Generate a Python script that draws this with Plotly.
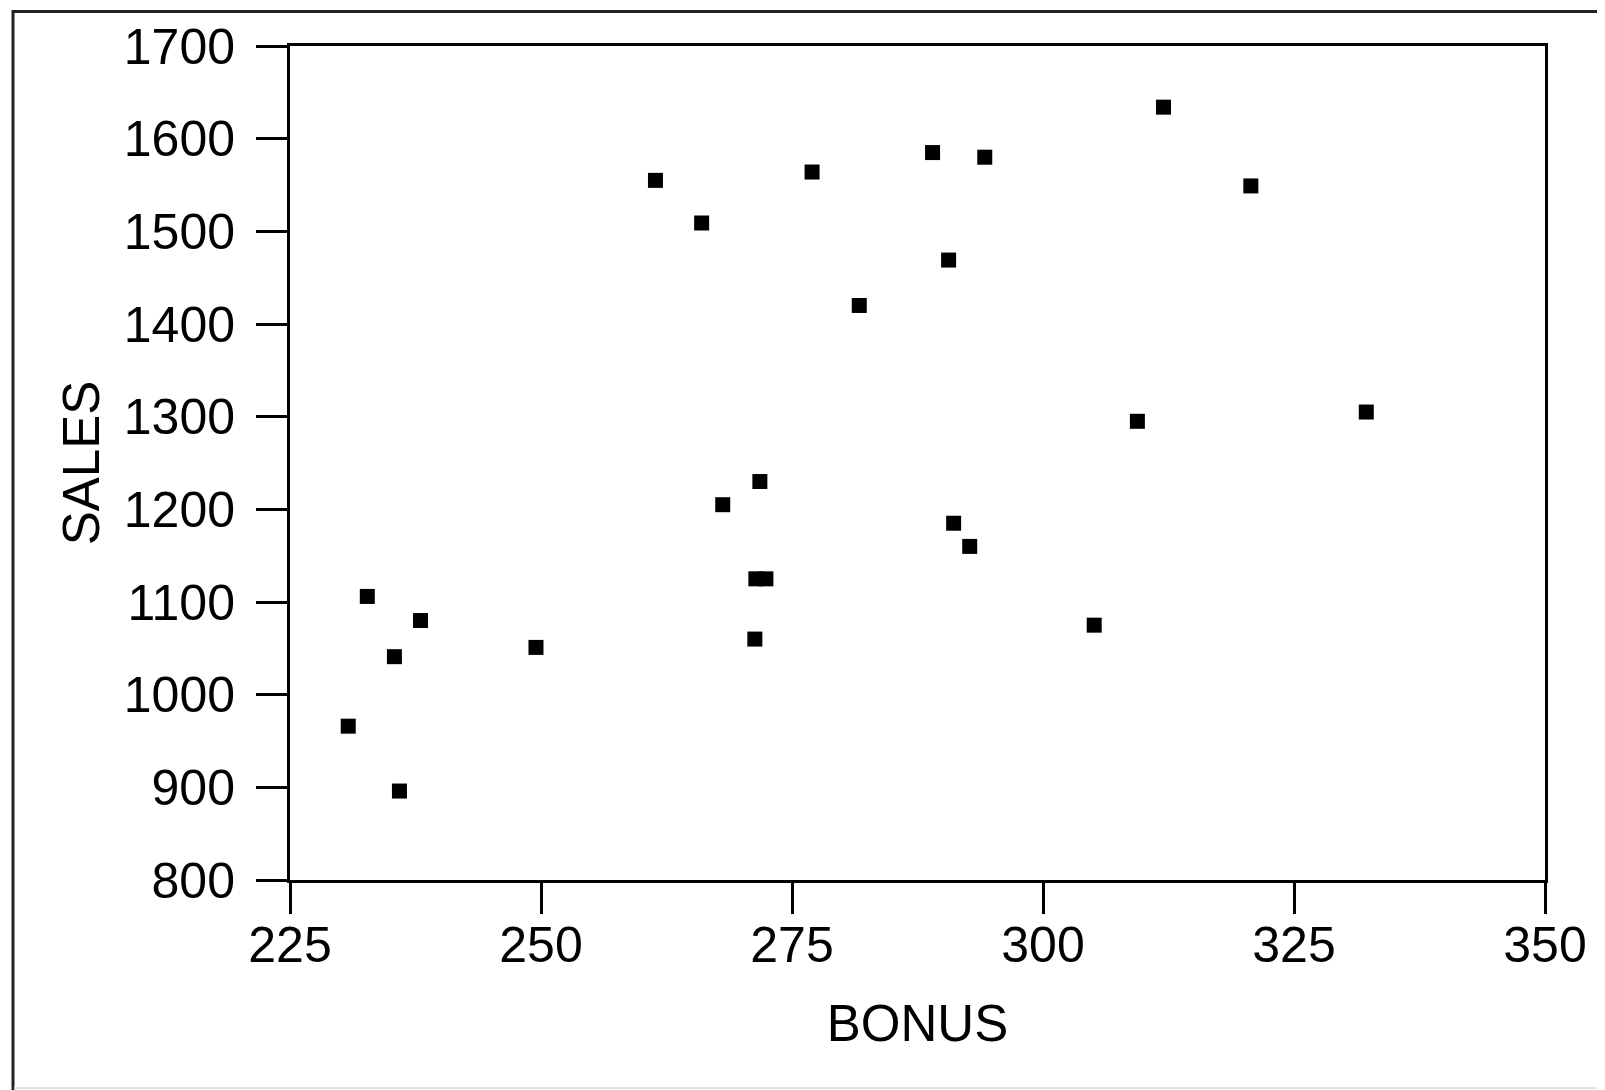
import plotly.graph_objects as go

# Data
bonus = [230.8, 232.7, 235.4, 235.9, 238.0, 249.5, 261.4, 266.0, 268.1, 271.3,
         271.8, 271.4, 272.4, 277.0, 281.7, 289.0, 290.6, 291.1, 292.7, 294.2,
         305.1, 309.4, 312.0, 320.7, 332.2]
sales = [966, 1106, 1041, 896, 1080, 1051, 1555, 1509, 1205, 1060,
         1230, 1125, 1125, 1564, 1420, 1585, 1469, 1185, 1160, 1580,
         1075, 1295, 1634, 1549, 1305]

x_ticks = [225, 250, 275, 300, 325, 350]
y_ticks = [800, 900, 1000, 1100, 1200, 1300, 1400, 1500, 1600, 1700]

OFF = 8  # page body margin
W, H = 1605, 1090
# plot area in page pixels: x 290..1545, y 46..880
L, T = 290 - OFF, 46 - OFF
R = W - (1545 - OFF)
B = H - (880 - OFF)
pw, ph = W - L - R, H - T - B

def px(x):  # page px -> paper
    return (x - OFF - L) / pw

def py(y):
    return (H - B - (y - OFF)) / ph

FONT = "Liberation Sans, Arial, sans-serif"

fig = go.Figure(go.Scatter(
    x=bonus, y=sales, mode="markers",
    marker=dict(symbol="square", size=15, color="black", line=dict(width=0)),
    hoverinfo="x+y",
))

axis_common = dict(
    showline=True, linewidth=3, linecolor="black", mirror=True,
    ticks="outside", ticklen=31, tickwidth=3, tickcolor="black",
    showgrid=False, zeroline=False,
    tickfont=dict(family=FONT, size=50, color="black"),
)

fig.update_xaxes(
    range=[225, 350], tickvals=x_ticks, ticktext=[str(v) for v in x_ticks],
    title=dict(text="BONUS", font=dict(family=FONT, size=51, color="black"), standoff=34),
    ticklabelstandoff=-12,
    **axis_common,
)
fig.update_yaxes(
    range=[800, 1700], tickvals=y_ticks, ticktext=[str(v) for v in y_ticks],
    title=dict(text="SALES", font=dict(family=FONT, size=51, color="black"), standoff=8),
    ticklabelstandoff=11,
    **axis_common,
)

shapes = [
    # outer frame lines
    dict(type="line", xref="paper", yref="paper", x0=px(12), x1=px(W + OFF), y0=py(11.5), y1=py(11.5),
         line=dict(color="#222222", width=3)),
    dict(type="line", xref="paper", yref="paper", x0=px(13), x1=px(13), y0=py(10), y1=py(H + OFF),
         line=dict(color="#222222", width=3)),
    dict(type="line", xref="paper", yref="paper", x0=px(14), x1=px(W + OFF), y0=py(1088), y1=py(1088),
         line=dict(color="#e2e2e2", width=2)),
]

fig.update_layout(
    width=W, height=H,
    margin=dict(l=L, r=R, t=T, b=B, autoexpand=False),
    paper_bgcolor="white", plot_bgcolor="white",
    showlegend=False,
    shapes=shapes,
    font=dict(family=FONT, color="black"),
)

fig.write_html("out.html")
